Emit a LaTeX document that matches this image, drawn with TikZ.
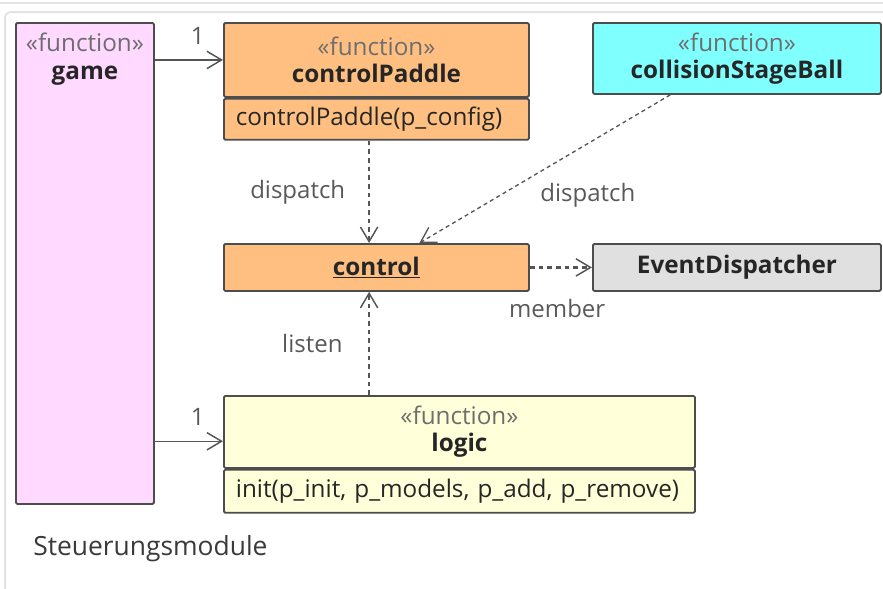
\documentclass[tikz,border=0pt]{standalone}
\usepackage{fontspec}
\setmainfont{Open Sans}
\usetikzlibrary{arrows.meta, positioning, calc}
\definecolor{umlborder}{HTML}{4D4D4D}
\definecolor{umltext}{HTML}{262626}
\definecolor{umlstereo}{HTML}{6E6E6E}
\definecolor{umllabel}{HTML}{595959}
\definecolor{umlline}{HTML}{555555}
\definecolor{umlcaption}{HTML}{3A3A3A}
\definecolor{framegray}{HTML}{E3E3E3}
\definecolor{gamepink}{HTML}{FFD9FF}
\definecolor{ctrlorange}{HTML}{FFBF80}
\definecolor{ballcyan}{HTML}{80FFFF}
\definecolor{dispgray}{HTML}{E0E0E0}
\definecolor{logicyellow}{HTML}{FFFFD9}

\begin{document}
\begin{tikzpicture}[x=0.75pt, y=-0.75pt,
    box/.style={rectangle, rounded corners=1pt, draw=umlborder, line width=1.4pt, fill=#1, anchor=north west, inner sep=0pt, text=umltext, align=center, font=\fontsize{18.2}{20.5}\selectfont},
    body/.style={align=left, inner xsep=9pt, text width=#1, anchor=north},
    assoc/.style={-{Straight Barb[length=11pt, width=13pt]}, umlline, line width=1.1pt},
    dep/.style={-{Straight Barb[length=11pt, width=13pt, line width=1.1pt]}, umlline, line width=1.9pt, dash pattern=on 3.5pt off 3pt},
    depthin/.style={-{Straight Barb[length=11pt, width=13pt]}, umlline, line width=1pt, dash pattern=on 3pt off 2.5pt},
    lbl/.style={text=umllabel, inner sep=0pt, font=\fontsize{18}{20}\selectfont},
    mult/.style={lbl, above=11pt}
]
\useasboundingbox (0,0) rectangle (883,589);

% Frame
\draw[framegray, line width=1.5pt] (0,3) -- (883,3);
\draw[framegray, line width=1.5pt, rounded corners=4pt] (5,589) -- (5,12) -- (883,12);

% Game
\node[box=gamepink, minimum width=103.5pt, minimum height=360.75pt] (game) at (15,22) {};
\node[lbl, text=umltext, align=center, font=\fontsize{18.2}{20.5}\selectfont] (gametitle) at ($(game.north)+(0,37)$) {{\color{umlstereo}«function»}\\\textbf{game}};

% controlPaddle
\node[box=ctrlorange, minimum width=228.75pt, minimum height=55.5pt] (cphead) at (223,22) {{\color{umlstereo}«function»}\\\textbf{controlPaddle}};
\node[box=ctrlorange, body=210.75pt, minimum height=30.75pt, below=0pt of cphead] (cpbody) {controlPaddle(p\_config)};

% collisionStageBall
\node[box=ballcyan, minimum width=216pt, minimum height=53.25pt] (coll) at (592,22) {{\color{umlstereo}«function»}\\\textbf{collisionStageBall}};

% control
\node[box=ctrlorange, minimum width=228.75pt, minimum height=35.25pt] (control) at (223,243) {\underline{\textbf{control}}};

% EventDispatcher
\node[box=dispgray, minimum width=216pt, minimum height=35.25pt] (evd) at (592,243) {\textbf{EventDispatcher}};

% logic
\node[box=logicyellow, minimum width=353.25pt, minimum height=54pt] (lghead) at (223,395) {{\color{umlstereo}«function»}\\\textbf{logic}};
\node[box=logicyellow, body=335.25pt, minimum height=32.25pt, below=0pt of lghead] (lgbody) {init(p\_init, p\_models, p\_add, p\_remove)};

% Caption
\node[lbl, text=umlcaption, anchor=west, font=\fontsize{19.8}{22}\selectfont] (caption) at (33,549) {Steuerungsmodule};

% Associations
\coordinate (lgin) at ([yshift=-7pt]lghead.west);
\draw[assoc] (game.east |- cphead.west) -- node[mult, pos=0.63] {1} (cphead.west);
\draw[assoc] (lgin -| game.east) -- node[mult, pos=0.63] {1} (lgin);

% Dependencies
\coordinate (depx) at ([xshift=-5.5pt]control.south);
\draw[dep] (cpbody.south -| depx) -- node[lbl, midway, left=17pt] {dispatch} (control.north -| depx);
\draw[depthin] ($(coll.south west)!0.27!(coll.south east)$) -- node[lbl, pos=0.68, right=30pt] {dispatch} ($(control.north west)!0.64!(control.north east)$);
\draw[dep] (control.east) -- node[lbl, pos=0.44, below=23pt] {member} (evd.west);
\draw[dep] (lghead.north -| depx) -- node[lbl, midway, left=19pt] {listen} (control.south -| depx);

\end{tikzpicture}
\end{document}
